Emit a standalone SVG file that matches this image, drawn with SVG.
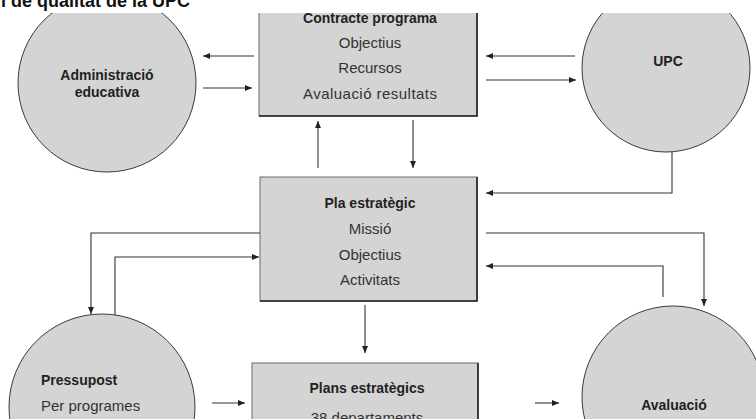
<svg xmlns="http://www.w3.org/2000/svg" width="756" height="419" viewBox="0 0 756 419">
<style>
  .bg { fill: #ffffff; }
  .circ { fill: #d4d4d4; stroke: #3a3a3a; stroke-width: 1; }
  .box { fill: #d4d4d4; stroke: #6a6a6a; stroke-width: 1; }
  .shadow { fill: none; stroke: #222222; stroke-width: 1.6; }
  .b { font-family: "Liberation Sans", Arial, sans-serif; font-weight: bold; font-size: 14px; fill: #222222; }
  .r { font-family: "Liberation Sans", Arial, sans-serif; font-size: 15px; fill: #333333; }
  .title { font-family: "Liberation Sans", Arial, sans-serif; font-weight: bold; font-size: 18px; fill: #111111; }
  .c { text-anchor: middle; }
  .conn { fill: none; stroke: #333333; stroke-width: 1.1; marker-end: url(#arr); }
</style>
<defs>
  <marker id="arr" markerUnits="userSpaceOnUse" markerWidth="8" markerHeight="6" refX="7" refY="3" orient="auto">
    <path d="M0,0 L7,3 L0,6 z" fill="#222222"/>
  </marker>
  <clipPath id="area">
    <rect x="0" y="13" width="756" height="406"/>
  </clipPath>
</defs>
<rect class="bg" x="0" y="0" width="756" height="419"/>
<text class="title" x="1" y="6.5">l de qualitat de la UPC</text>
<g clip-path="url(#area)">
  <g id="administracio">
    <circle class="circ" cx="107" cy="83" r="89"/>
    <text class="b c" x="107" y="80">Administració</text>
    <text class="b c" x="107" y="97">educativa</text>
  </g>
  <g id="contracte">
    <rect class="box" x="259" y="5" width="218" height="111"/>
    <polyline class="shadow" points="477,5 477,116 259,116"/>
    <text class="b c" x="370" y="23">Contracte programa</text>
    <text class="r c" x="370" y="48">Objectius</text>
    <text class="r c" x="370" y="73">Recursos</text>
    <text class="r c" x="370" y="99" textLength="134">Avaluació resultats</text>
  </g>
  <g id="upc">
    <circle class="circ" cx="666" cy="68" r="84"/>
    <text class="b c" x="668" y="66">UPC</text>
  </g>
  <g id="pla">
    <rect class="box" x="260" y="177" width="217" height="124"/>
    <polyline class="shadow" points="477,177 477,301 260,301"/>
    <text class="b c" x="370" y="208">Pla estratègic</text>
    <text class="r c" x="370" y="234">Missió</text>
    <text class="r c" x="370" y="260">Objectius</text>
    <text class="r c" x="370" y="285">Activitats</text>
  </g>
  <g id="plans">
    <rect class="box" x="252" y="363" width="226" height="80"/>
    <polyline class="shadow" points="478,363 478,443"/>
    <text class="b c" x="367" y="393">Plans estratègics</text>
    <text class="r c" x="367" y="423">38 departaments</text>
  </g>
  <g id="pressupost">
    <circle class="circ" cx="102" cy="407" r="93"/>
    <text class="b" x="41" y="385">Pressupost</text>
    <text class="r" x="41" y="411">Per programes</text>
  </g>
  <g id="avaluacio">
    <circle class="circ" cx="673" cy="397" r="91"/>
    <text class="b c" x="674" y="410">Avaluació</text>
  </g>
</g>
<g id="connectors">
  <line class="conn" x1="254" y1="56" x2="203" y2="56"/>
  <line class="conn" x1="203" y1="88" x2="252" y2="88"/>
  <line class="conn" x1="575" y1="56" x2="486" y2="56"/>
  <line class="conn" x1="486" y1="80" x2="576" y2="80"/>
  <line class="conn" x1="318" y1="168" x2="318" y2="121"/>
  <line class="conn" x1="413" y1="120" x2="413" y2="168"/>
  <polyline class="conn" points="672,152 672,193 486,193"/>
  <polyline class="conn" points="486,233 704,233 704,306"/>
  <polyline class="conn" points="663,297 663,266 486,266"/>
  <line class="conn" x1="365" y1="305" x2="365" y2="353"/>
  <polyline class="conn" points="260,233 91,233 91,314"/>
  <polyline class="conn" points="115,315 115,257 259,257"/>
  <line class="conn" x1="212" y1="403" x2="245" y2="403"/>
  <line class="conn" x1="535" y1="403" x2="559" y2="403"/>
</g>
</svg>
